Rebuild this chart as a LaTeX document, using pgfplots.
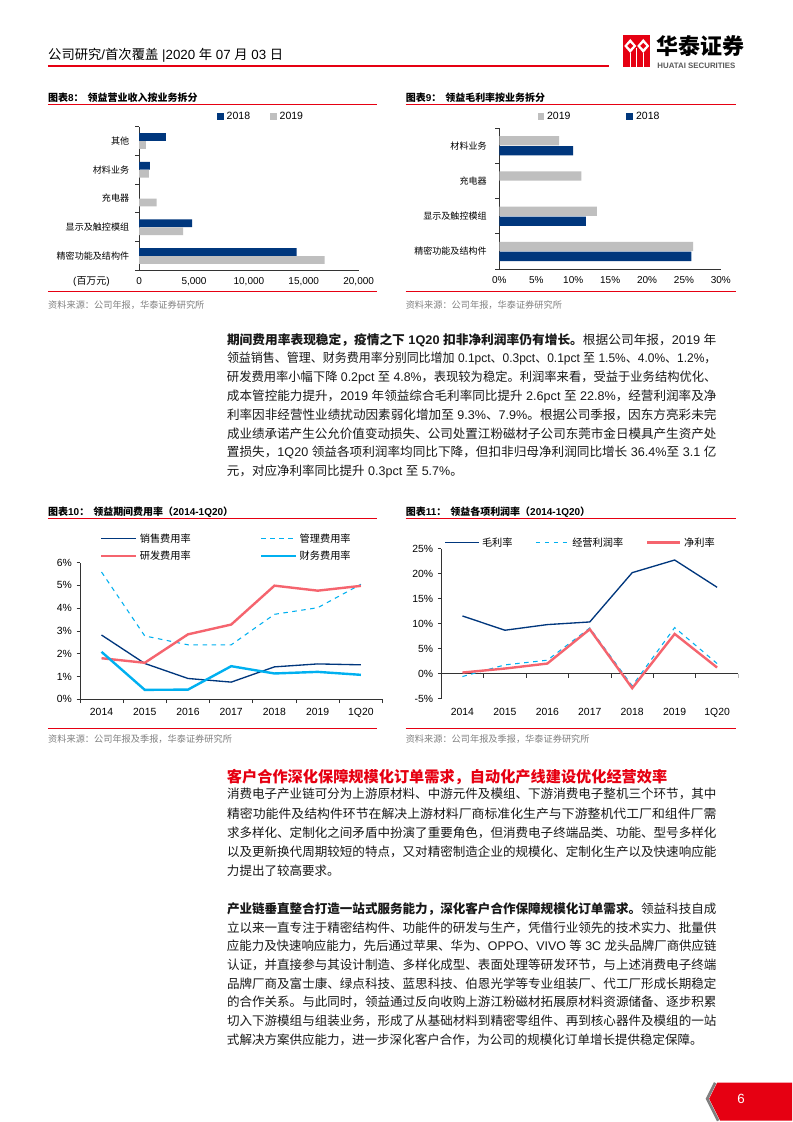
\documentclass[border=0pt]{standalone}
\usepackage{fontspec}
\usepackage{graphicx}
\usepackage{pgfplots}
\pgfplotsset{compat=1.18}
\setmainfont{Liberation Sans}
\newfontfamily\lat{Liberation Sans}
\newfontfamily\cjk{Noto Sans CJK SC}
\XeTeXinterchartokenstate=1
\newXeTeXintercharclass\CJKcls
\newcount\cc
\def\setcjkrange#1#2{\cc=#1\relax\loop\XeTeXcharclass\cc=\CJKcls\relax\ifnum\cc<#2\relax\advance\cc by 1\relax\repeat}
\setcjkrange{"3000}{"303F}
\setcjkrange{"4E00}{"9FFF}
\setcjkrange{"FF00}{"FFEF}
\XeTeXinterchartoks 0 \CJKcls={\cjk}
\XeTeXinterchartoks 4095 \CJKcls={\cjk}
\XeTeXinterchartoks \CJKcls 0={\lat}
\XeTeXinterchartoks \CJKcls 4095={\lat}
\definecolor{navy}{RGB}{0,55,125}
\definecolor{lgray}{RGB}{191,191,191}
\definecolor{hred}{RGB}{230,0,18}
\definecolor{salmon}{RGB}{245,100,110}
\definecolor{cyanb}{RGB}{0,176,240}
\definecolor{srcgray}{RGB}{128,128,128}
\newcommand\fs[2]{\fontsize{#1}{#2}\selectfont}
\newcommand\JL[1]{\resizebox{367.5pt}{\height}{#1}}
\begin{document}
\begin{tikzpicture}
\path[fill=white] (0pt,0pt) rectangle (594.75pt,-841.5pt);
\begin{scope}[x=0.75pt,y=-0.75pt]
% header
\node[anchor=west, inner sep=0, font=\fs{10}{12}] at (48,55) {公司研究/首次覆盖 |2020 年 07 月 03 日};
\draw[hred, line width=1.5pt] (48,66) -- (610,66);
% logo
\fill[hred] (624,35) rectangle (651,67);
\fill[white] (631,39) -- (637,46) -- (631,53) -- (625,46) -- cycle;
\fill[white] (644,39) -- (650,46) -- (644,53) -- (638,46) -- cycle;
\fill[hred] (631,43) -- (634,46) -- (631,49) -- (628,46) -- cycle;
\fill[hred] (644,43) -- (647,46) -- (644,49) -- (641,46) -- cycle;
\fill[white] (630.3,53) rectangle (631.7,67);
\fill[white] (643.3,53) rectangle (644.7,67);
\fill[white] (636.8,48) rectangle (638.2,67);
\node[anchor=west, inner sep=0, font=\fs{16.5}{18}\bfseries] at (657,46) {华泰证券};
\node[anchor=west, inner sep=0, font=\fs{5.9}{7}\bfseries, text=black!65] at (658,66) {HUATAI SECURITIES};
% chart titles and rules
\node[anchor=west, inner sep=0, font=\fs{7.5}{9}\bfseries] at (48,97.5) {图表8：\hspace{3pt}领益营业收入按业务拆分};
\node[anchor=west, inner sep=0, font=\fs{7.5}{9}\bfseries] at (406,97.5) {图表9：\hspace{3pt}领益毛利率按业务拆分};
\node[anchor=west, inner sep=0, font=\fs{7.5}{9}\bfseries] at (48,512.7) {图表10：\hspace{3pt}领益期间费用率（2014-1Q20）};
\node[anchor=west, inner sep=0, font=\fs{7.5}{9}\bfseries] at (406,512.7) {图表11：\hspace{3pt}领益各项利润率（2014-1Q20）};
\draw[hred, line width=0.9pt] (48,105) -- (377,105);
\draw[hred, line width=0.9pt] (406,105) -- (737,105);
\draw[hred, line width=0.9pt] (48,519) -- (377,519);
\draw[hred, line width=0.9pt] (406,519) -- (737,519);
\draw[hred, line width=0.9pt] (48,292) -- (377,292);
\draw[hred, line width=0.9pt] (406,292) -- (737,292);
\draw[hred, line width=0.9pt] (48,729) -- (377,729);
\draw[hred, line width=0.9pt] (406,729) -- (737,729);
\node[anchor=west, inner sep=0, font=\fs{6.9}{8}, text=srcgray] at (48,305) {资料来源：公司年报，华泰证券研究所};
\node[anchor=west, inner sep=0, font=\fs{6.9}{8}, text=srcgray] at (406,305) {资料来源：公司年报，华泰证券研究所};
\node[anchor=west, inner sep=0, font=\fs{6.9}{8}, text=srcgray] at (48,740) {资料来源：公司年报及季报，华泰证券研究所};
\node[anchor=west, inner sep=0, font=\fs{6.9}{8}, text=srcgray] at (406,740) {资料来源：公司年报及季报，华泰证券研究所};
\node[anchor=west, inner sep=0, font=\fs{7.5}{9}] at (73,282) {(百万元)};
% paragraph 1
\begin{scope}[every node/.style={anchor=west, inner sep=0, font=\fs{9.4}{11}, text=black!90}]
\node at (227,340.7) {\JL{\textbf{期间费用率表现稳定，疫情之下 1Q20 扣非净利润率仍有增长。}根据公司年报，2019 年}};
\node at (227,359.4) {\JL{领益销售、管理、财务费用率分别同比增加 0.1pct、0.3pct、0.1pct 至 1.5\%、4.0\%、1.2\%，}};
\node at (227,378.1) {\JL{研发费用率小幅下降 0.2pct 至 4.8\%，表现较为稳定。利润率来看，受益于业务结构优化、}};
\node at (227,396.8) {\JL{成本管控能力提升，2019 年领益综合毛利率同比提升 2.6pct 至 22.8\%，经营利润率及净}};
\node at (227,415.5) {\JL{利率因非经营性业绩扰动因素弱化增加至 9.3\%、7.9\%。根据公司季报，因东方亮彩未完}};
\node at (227,434.2) {\JL{成业绩承诺产生公允价值变动损失、公司处置江粉磁材子公司东莞市金日模具产生资产处}};
\node at (227,452.9) {\JL{置损失，1Q20 领益各项利润率均同比下降，但扣非归母净利润同比增长 36.4\%至 3.1 亿}};
\node at (227,471.6) {元，对应净利率同比提升 0.3pct 至 5.7\%。};
% paragraph 3
\node[font=\fs{11.4}{13}\bfseries, text=hred] at (227,778) {客户合作深化保障规模化订单需求，自动化产线建设优化经营效率};
\node at (227,795) {\JL{消费电子产业链可分为上游原材料、中游元件及模组、下游消费电子整机三个环节，其中}};
\node at (227,814.2) {\JL{精密功能件及结构件环节在解决上游材料厂商标准化生产与下游整机代工厂和组件厂需}};
\node at (227,833.4) {\JL{求多样化、定制化之间矛盾中扮演了重要角色，但消费电子终端品类、功能、型号多样化}};
\node at (227,852.6) {\JL{以及更新换代周期较短的特点，又对精密制造企业的规模化、定制化生产以及快速响应能}};
\node at (227,871.8) {力提出了较高要求。};
% paragraph 4
\node at (227,910) {\JL{\textbf{产业链垂直整合打造一站式服务能力，深化客户合作保障规模化订单需求。}领益科技自成}};
\node at (227,928.7) {\JL{立以来一直专注于精密结构件、功能件的研发与生产，凭借行业领先的技术实力、批量供}};
\node at (227,947.4) {\JL{应能力及快速响应能力，先后通过苹果、华为、OPPO、VIVO 等 3C 龙头品牌厂商供应链}};
\node at (227,966.1) {\JL{认证，并直接参与其设计制造、多样化成型、表面处理等研发环节，与上述消费电子终端}};
\node at (227,984.8) {\JL{品牌厂商及富士康、绿点科技、蓝思科技、伯恩光学等专业组装厂、代工厂形成长期稳定}};
\node at (227,1003.5) {\JL{的合作关系。与此同时，领益通过反向收购上游江粉磁材拓展原材料资源储备、逐步积累}};
\node at (227,1022.2) {\JL{切入下游模组与组装业务，形成了从基础材料到精密零组件、再到核心器件及模组的一站}};
\node at (227,1040.9) {式解决方案供应能力，进一步深化客户合作，为公司的规模化订单增长提供稳定保障。};
\end{scope}
% page number
\draw[gray, line width=2pt] (716,1084) -- (708,1100) -- (719,1122);
\fill[hred] (718,1084) -- (793,1084) -- (793,1122) -- (721,1122) -- (710,1100) -- cycle;
\node[text=white, font=\fs{10}{12}, inner sep=0] at (742,1100) {6};
\end{scope}

% ---------------- Chart 8
\begin{axis}[
  at={(104.5pt,-203pt)}, anchor=south west,
  scale only axis, width=164.8pt, height=108pt,
  xbar, bar width=5.8pt,
  xmin=0, xmax=20000, ymin=-0.5, ymax=4.5,
  axis x line*=bottom, axis y line*=left,
  axis line style={black!80, line width=0.6pt},
  scaled x ticks=false,
  xtick={0,5000,10000,15000,20000},
  xticklabels={0,{5,000},{10,000},{15,000},{20,000}},
  ytick={0,1,2,3,4},
  yticklabels={精密功能及结构件,显示及触控模组,充电器,材料业务,其他},
  minor ytick={-0.5,0.5,1.5,2.5,3.5,4.5},
  tick align=outside, major tick length=0pt, minor tick length=3pt,
  minor tick style={black!80, line width=0.6pt},
  xticklabel style={font=\fs{7.5}{9}, yshift=-2pt},
  yticklabel style={font=\fs{6.8}{8}, xshift=-4pt},
  legend columns=2,
  legend style={at={(0.354,1.067)}, anchor=west, draw=none, fill=none, inner sep=0pt,
    font=\fs{7.9}{9}, /tikz/every even column/.append style={column sep=13pt}},
  legend image code/.code={\fill[#1] (0pt,-2.6pt) rectangle (5.2pt,2.6pt);},
]
\addplot[fill=navy, draw=none, bar shift=3pt] coordinates {(14350,0) (4830,1) (970,3) (2430,4)};
\addplot[fill=lgray, draw=none, bar shift=-3pt] coordinates {(16900,0) (4000,1) (1580,2) (880,3) (600,4)};
\legend{2018,2019}
\end{axis}

% ---------------- Chart 9
\begin{axis}[
  at={(375pt,-202pt)}, anchor=south west,
  scale only axis, width=166.3pt, height=105.75pt,
  xbar, bar width=7pt,
  xmin=0, xmax=30, ymin=-0.5, ymax=3.5,
  axis x line*=bottom, axis y line*=left,
  axis line style={black!80, line width=0.6pt},
  xtick={0,5,10,15,20,25,30},
  xticklabels={0\%,5\%,10\%,15\%,20\%,25\%,30\%},
  ytick={0,1,2,3},
  yticklabels={精密功能及结构件,显示及触控模组,充电器,材料业务},
  minor ytick={-0.5,0.5,1.5,2.5,3.5},
  tick align=outside, major tick length=0pt, minor tick length=3pt,
  minor tick style={black!80, line width=0.6pt},
  xticklabel style={font=\fs{7.5}{9}, yshift=-2pt},
  yticklabel style={font=\fs{6.8}{8}, xshift=-6pt},
  legend columns=2,
  legend style={at={(0.171,1.082)}, anchor=west, draw=none, fill=none, inner sep=0pt,
    font=\fs{7.9}{9}, /tikz/every even column/.append style={column sep=40pt}},
  legend image code/.code={\fill[#1] (0pt,-2.6pt) rectangle (5.2pt,2.6pt);},
]
\addplot[fill=lgray, draw=none, bar shift=3.75pt] coordinates {(26.25,0) (13.2,1) (11.1,2) (8.1,3)};
\addplot[fill=navy, draw=none, bar shift=-3.75pt] coordinates {(26.0,0) (11.7,1) (9.97,3)};
\legend{2019,2018}
\end{axis}

% ---------------- Chart 10
\begin{axis}[
  at={(60pt,-525pt)}, anchor=south west,
  scale only axis, width=227.25pt, height=102.5pt,
  xmin=-0.5, xmax=6.5, ymin=0, ymax=6,
  axis x line*=bottom, axis y line*=left,
  axis line style={black!80, line width=0.6pt},
  xtick={0,1,2,3,4,5,6},
  xticklabels={2014,2015,2016,2017,2018,2019,1Q20},
  minor xtick={-0.5,0.5,1.5,2.5,3.5,4.5,5.5,6.5},
  ytick={0,1,2,3,4,5,6},
  yticklabels={0\%,1\%,2\%,3\%,4\%,5\%,6\%},
  tick align=outside, major tick length=2.5pt, minor tick length=3pt,
  tick style={black!80, line width=0.6pt},
  major x tick style={draw=none},
  xticklabel style={font=\fs{7.8}{9}, yshift=-1pt},
  yticklabel style={font=\fs{7.8}{9}},
  legend columns=2,
  legend cell align=left,
  legend style={at={(0.066,1.236)}, anchor=north west, draw=none, fill=none, inner sep=0pt,
    row sep=1pt, font=\fs{7.65}{9}, /tikz/every even column/.append style={column sep=50pt}},
  legend image code/.code={\draw[#1] (0pt,0pt) -- (26pt,0pt);},
]
\addplot[navy, line width=1pt, mark=none] coordinates {(0,2.82) (1,1.57) (2,0.91) (3,0.75) (4,1.42) (5,1.55) (6,1.51)};
\addplot[cyanb, line width=0.8pt, dash pattern=on 3.4pt off 3.4pt, mark=none] coordinates {(0,5.59) (1,2.78) (2,2.39) (3,2.39) (4,3.73) (5,4.02) (6,5.05)};
\addplot[salmon, line width=1.8pt, mark=none] coordinates {(0,1.80) (1,1.60) (2,2.85) (3,3.28) (4,4.99) (5,4.77) (6,4.98)};
\addplot[cyanb, line width=1.8pt, mark=none] coordinates {(0,2.08) (1,0.41) (2,0.42) (3,1.45) (4,1.13) (5,1.20) (6,1.07)};
\legend{销售费用率,管理费用率,研发费用率,财务费用率}
\end{axis}

% ---------------- Chart 11
\begin{axis}[
  at={(331.3pt,-524.5pt)}, anchor=south west,
  scale only axis, width=223.1pt, height=112.5pt,
  xmin=-0.5, xmax=6.5, ymin=-5, ymax=25,
  axis x line*=bottom, axis y line*=left,
  axis line style={black!80, line width=0.6pt},
  x axis line style={draw=none},
  xtick={0,1,2,3,4,5,6},
  xticklabels={2014,2015,2016,2017,2018,2019,1Q20},
  ytick={-5,0,5,10,15,20,25},
  yticklabels={-5\%,0\%,5\%,10\%,15\%,20\%,25\%},
  tick align=outside, major tick length=2.5pt,
  tick style={black!80, line width=0.6pt},
  major x tick style={draw=none},
  xticklabel style={font=\fs{7.8}{9}, yshift=-1pt},
  yticklabel style={font=\fs{7.8}{9}},
  legend columns=3,
  legend cell align=left,
  legend style={at={(0.011,1.095)}, anchor=north west, draw=none, fill=none, inner sep=0pt,
    font=\fs{7.65}{9}, /tikz/every even column/.append style={column sep=15pt}},
  legend image code/.code={\draw[#1] (0pt,0pt) -- (25pt,0pt);},
]
\draw[black!80, line width=0.6pt] (axis cs:-0.5,0) -- (axis cs:6.5,0);
\pgfplotsinvokeforeach{-0.5,0.5,1.5,2.5,3.5,4.5,5.5,6.5}{\draw[black!80, line width=0.6pt] (axis cs:#1,0) -- ++(0pt,-3pt);}
\addplot[navy, line width=1pt, mark=none] coordinates {(0,11.53) (1,8.67) (2,9.8) (3,10.33) (4,20.2) (5,22.73) (6,17.27)};
\addplot[cyanb, line width=0.8pt, dash pattern=on 3.4pt off 3.4pt, mark=none] coordinates {(0,-0.6) (1,1.73) (2,2.67) (3,9.13) (4,-2.47) (5,9.2) (6,2.0)};
\addplot[salmon, line width=1.8pt, mark=none] coordinates {(0,0.2) (1,1.0) (2,2.0) (3,8.87) (4,-2.93) (5,7.93) (6,1.2)};
\legend{毛利率,经营利润率,净利率}
\end{axis}
\end{tikzpicture}
\end{document}
